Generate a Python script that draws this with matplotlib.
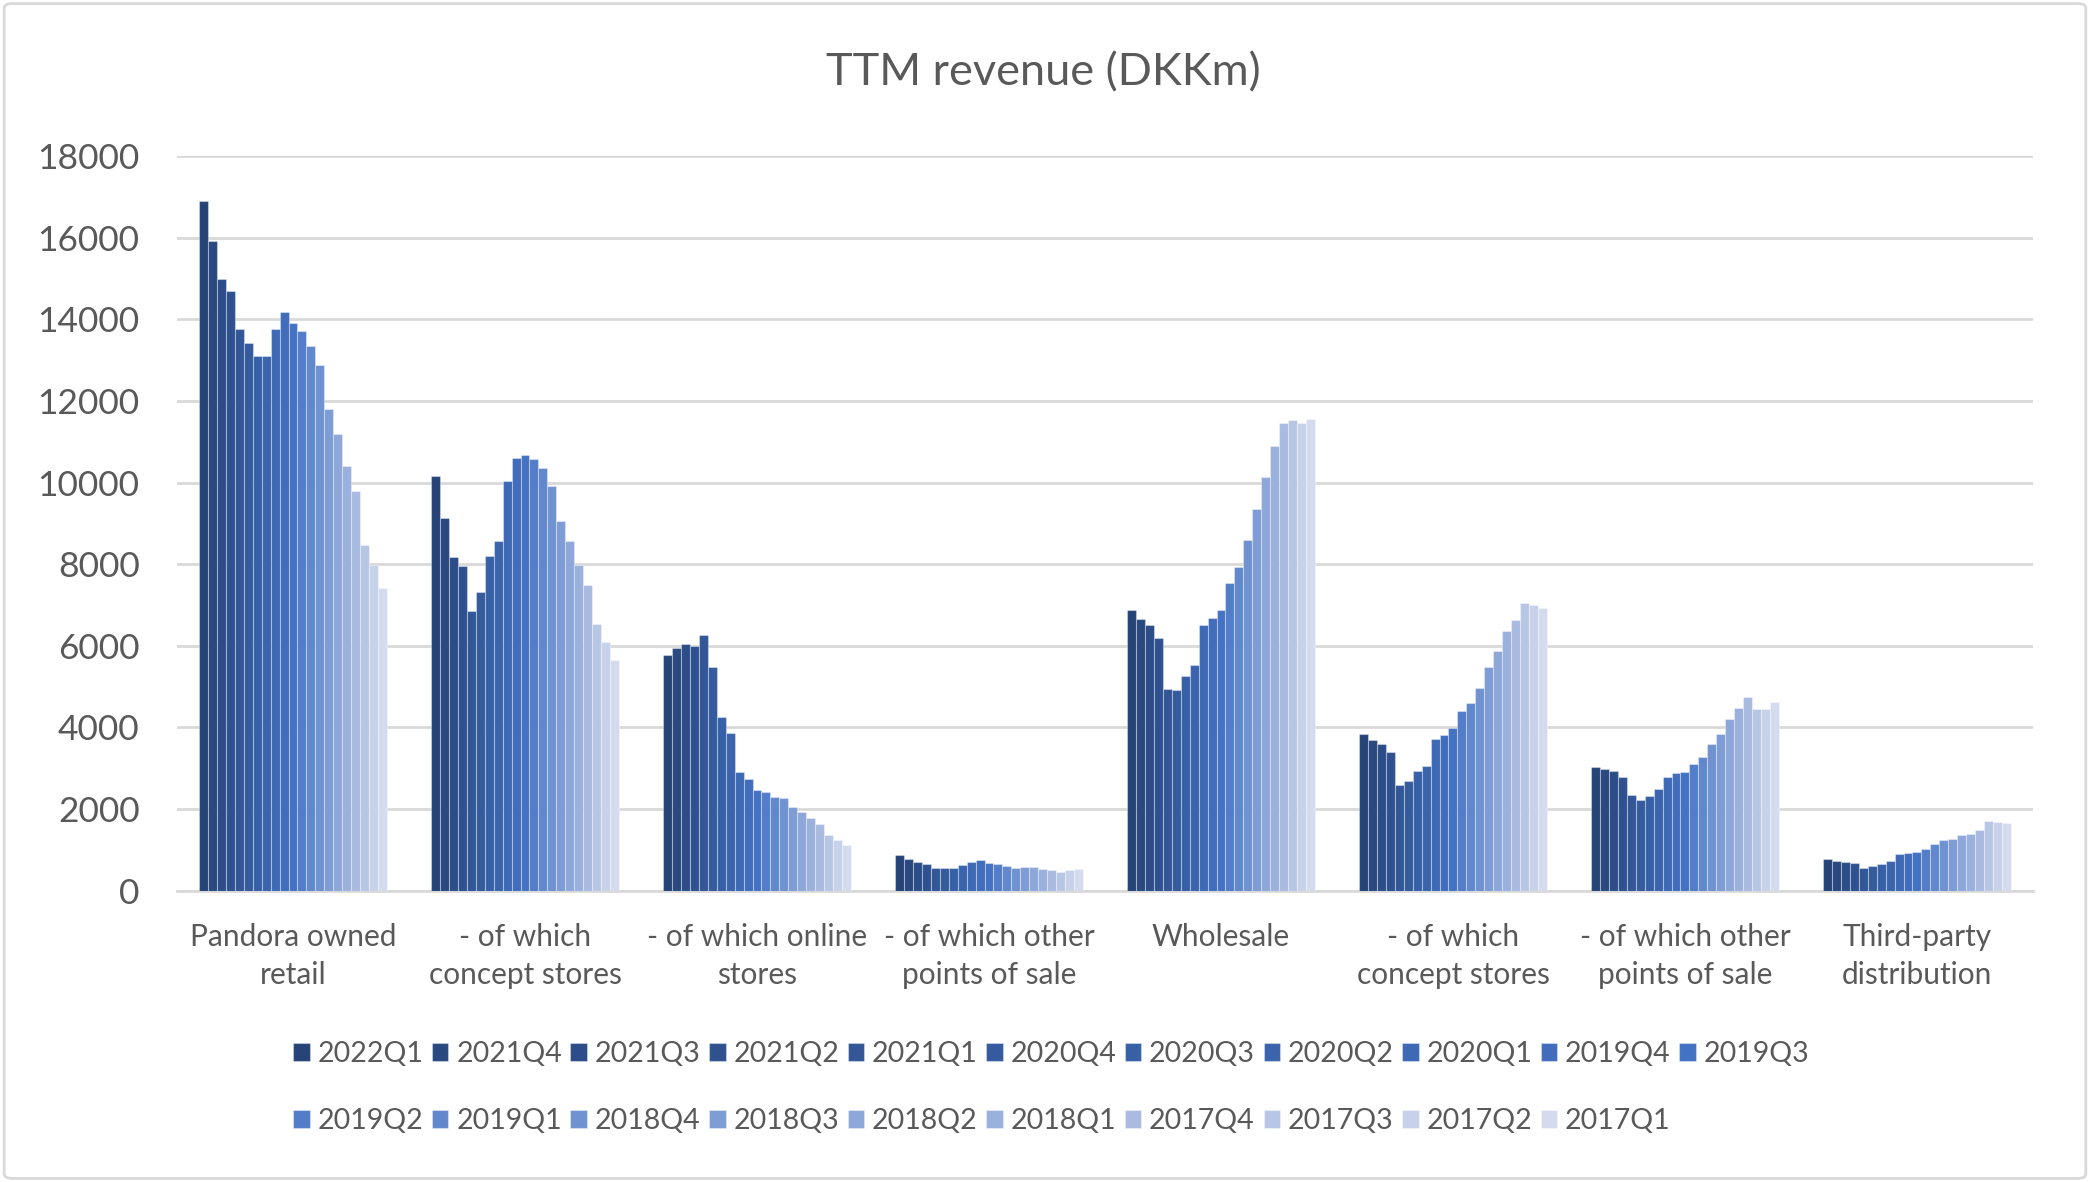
import matplotlib.pyplot as plt
import matplotlib.colors as mcolors
from matplotlib.patches import FancyBboxPatch
import numpy as np

plt.rcParams['font.family'] = ['Lato', 'DejaVu Sans']

categories = ['Pandora owned\nretail', '- of which\nconcept stores', '- of which online\nstores',
	'- of which other\npoints of sale', 'Wholesale', '- of which\nconcept stores',
	'- of which other\npoints of sale', 'Third-party\ndistribution']

quarters = ['2022Q1', '2021Q4', '2021Q3', '2021Q2', '2021Q1', '2020Q4', '2020Q3', '2020Q2', '2020Q1',
	'2019Q4', '2019Q3', '2019Q2', '2019Q1', '2018Q4', '2018Q3', '2018Q2', '2018Q1', '2017Q4',
	'2017Q3', '2017Q2', '2017Q1']

# TTM revenue per category, one value per quarter (newest first)
retail = [16890, 15910, 14980, 14690, 13750, 13430, 13110, 13090, 13750, 14170, 13910,
	13720, 13350, 12890, 11810, 11180, 10410, 9780, 8480, 7970, 7420]
retail_concept = [10170, 9125, 8170, 7950, 6840, 7310, 8210, 8555, 10030, 10590, 10670,
	10570, 10350, 9925, 9050, 8555, 7975, 7500, 6530, 6100, 5660]
retail_online = [5770, 5955, 6045, 5990, 6260, 5470, 4245, 3855, 2895, 2740, 2470,
	2405, 2305, 2275, 2060, 1930, 1785, 1635, 1365, 1245, 1120]
retail_other = [865, 767, 694, 645, 563, 563, 563, 620, 710, 743, 669,
	645, 612, 555, 588, 571, 539, 514, 465, 506, 539]
wholesale = [6880, 6665, 6510, 6190, 4940, 4915, 5260, 5530, 6510, 6680, 6880,
	7540, 7930, 8595, 9360, 10140, 10900, 11450, 11540, 11470, 11560]
wholesale_concept = [3845, 3700, 3600, 3405, 2595, 2695, 2940, 3060, 3720, 3820, 3985,
	4408, 4600, 4970, 5485, 5880, 6365, 6640, 7055, 7010, 6915]
wholesale_other = [3025, 2975, 2925, 2795, 2345, 2230, 2320, 2480, 2795, 2875, 2910,
	3100, 3280, 3600, 3845, 4210, 4475, 4745, 4455, 4455, 4620]
third_party = [767, 735, 710, 686, 563, 604, 645, 735, 906, 931, 955,
	1029, 1151, 1249, 1273, 1371, 1378, 1494, 1718, 1693, 1651]

values = np.array([retail, retail_concept, retail_online, retail_other,
	wholesale, wholesale_concept, wholesale_other, third_party])

text_color = '#595959'
grid_color = '#D9D9D9'


# Excel style monochromatic blue palette: dark navy -> accent blue -> pale
def blendColors(c1, c2, t):
	a = np.array(mcolors.to_rgb(c1))
	b = np.array(mcolors.to_rgb(c2))
	return tuple(a + (b - a) * t)


def bluePalette(n):
	colors = []
	mid = 10
	for i in range(n):
		if i <= mid:
			colors.append(blendColors('#264478', '#4472C4', i / mid))
		else:
			colors.append(blendColors('#4472C4', '#D5DBEE', (i - mid) / (n - 1 - mid)))
	return colors


fig = plt.figure(figsize = (20.9, 11.82), dpi = 100)
ax = fig.add_axes([0.0847, 0.2465, 0.888, 0.6215])

n_series = len(quarters)
group_width = 0.81
bar_width = group_width / n_series
x = np.arange(len(categories))
palette = bluePalette(n_series)

bars = []
for i, q in enumerate(quarters):
	offset = (i - (n_series - 1) / 2) * bar_width
	b = ax.bar(x + offset, values[:, i], width = bar_width, color = palette[i],
		edgecolor = (1, 1, 1, 0.35), linewidth = 0.8, label = q, zorder = 3)
	bars.append(b)

ax.set_xlim(-0.5, len(categories) - 0.5)
ax.set_ylim(0, 18000)
ax.set_yticks(np.arange(0, 18001, 2000))
ax.yaxis.grid(True, color = grid_color, linewidth = 2, zorder = 0)
ax.set_xticks(x)
ax.set_xticklabels(categories, fontsize = 21.5, color = text_color, linespacing = 1.45)
ax.tick_params(axis = 'y', length = 0, pad = 27, labelsize = 25.5, labelcolor = text_color)
ax.tick_params(axis = 'x', length = 0, pad = 23)
for side in ['top', 'right', 'left']:
	ax.spines[side].set_visible(False)
ax.spines['bottom'].set_color(grid_color)
ax.spines['bottom'].set_linewidth(2)

fig.text(0.499, 0.938, 'TTM revenue (DKKm)', ha = 'center', va = 'center', fontsize = 32.5, color = text_color)

# legend fills column-wise, so interleave to get the two rows in order
order = []
for i in range(11):
	order.append(i)
	if i + 11 < n_series:
		order.append(i + 11)
handles = [bars[i] for i in order]
labels = [quarters[i] for i in order]
fig.legend(handles, labels, ncol = 11, loc = 'center', bbox_to_anchor = (0.503, 0.080),
	frameon = False, fontsize = 20.5, labelcolor = text_color, handlelength = 0.58,
	handleheight = 0.58, handletextpad = 0.27, columnspacing = 0.3, labelspacing = 1.45)

# chart area border
border = FancyBboxPatch((0.002, 0.003), 0.996, 0.994, boxstyle = 'round,pad=0,rounding_size=0.004',
	transform = fig.transFigure, facecolor = 'none', edgecolor = grid_color, linewidth = 2)
fig.patches.append(border)

fig.savefig('out.png', dpi = 100)
